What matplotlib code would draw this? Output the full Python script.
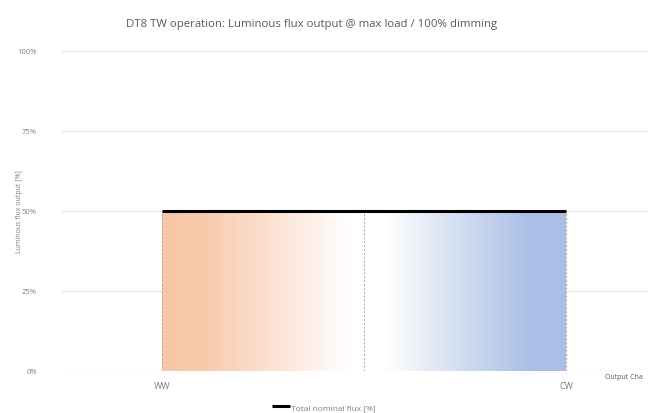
import numpy as np
import matplotlib
matplotlib.use("Agg")
import matplotlib.pyplot as plt
from matplotlib.colors import LinearSegmentedColormap
from matplotlib.patches import Polygon

# Data
channel_pos = [0.0, 0.5, 1.0]
channel_labels = ["WW", "", "CW"]
total_flux = [50, 50, 50]
y_ticks = [0, 25, 50, 75, 100]
y_tick_labels = ["0%", "25%", "50%", "75%", "100%"]

plt.rcParams['font.family'] = ['Open Sans', 'DejaVu Sans']

fig = plt.figure(figsize=(6.48, 4.14), dpi=100)
ax = fig.add_axes([62/648, 42/414, (648-62)/648, 320/414])
ax.set_xlim(-0.2475, 1.203)
ax.set_ylim(0, 100)

for s in ax.spines.values():
    s.set_visible(False)
ax.set_yticks(y_ticks)
ax.set_yticklabels(y_tick_labels, color="#7f7f7f", fontsize=5.5)
ax.set_xticks([channel_pos[0], channel_pos[-1]])
ax.set_xticklabels([channel_labels[0], channel_labels[-1]], color="#7f7f7f", fontsize=6.5)
ax.tick_params(axis="both", length=0)
ax.tick_params(axis="y", pad=18)
ax.tick_params(axis="x", pad=7)
ax.grid(axis="y", color="#e3e3e3", linewidth=0.8)
ax.set_axisbelow(True)

# gradient fill
cmap = LinearSegmentedColormap.from_list("tw", [
    (0.0, "#f7c6a7"), (0.1, "#f8caac"), (0.47, "#ffffff"),
    (0.55, "#ffffff"), (0.9, "#adc0e6"), (1.0, "#aabee6")])
grad = np.linspace(0, 1, 512).reshape(1, -1)
x0, x1 = channel_pos[0], channel_pos[-1]
im = ax.imshow(grad, cmap=cmap, aspect="auto",
               extent=[x0, x1, 0, max(total_flux)], zorder=1)
poly = Polygon([(x0, 0)] + list(zip(channel_pos, total_flux)) + [(x1, 0)],
               closed=True, transform=ax.transData, facecolor="none", edgecolor="none")
ax.add_patch(poly)
im.set_clip_path(poly)

for xp, yv in zip(channel_pos, total_flux):
    ax.plot([xp, xp], [0, yv], color="#a6a6a6", linestyle=(0, (2, 2)), linewidth=0.7, zorder=2)

line, = ax.plot(channel_pos, total_flux, color="black", linewidth=2.2, zorder=3,
                solid_capstyle="butt", label="Total nominal flux [%]")

fig.text(0.481, 1 - 24/414, "DT8 TW operation: Luminous flux output @ max load / 100% dimming",
         ha="center", va="center", fontsize=8.2, color="#595959")
fig.text(20/648, 1 - 212/414, "Luminous flux output [%]", rotation=90,
         ha="center", va="center", fontsize=5, color="#7f7f7f")
fig.text(605/648, 1 - 378/414, "Output Cha", ha="left", va="center",
         fontsize=5, color="#595959")

leg = fig.legend(handles=[line], loc="center", bbox_to_anchor=(324/648, 1 - 408/414),
                 frameon=False, fontsize=6, handlelength=2.2, handletextpad=0.1)
for t in leg.get_texts():
    t.set_color("#7f7f7f")

fig.savefig("out.png", dpi=100)
